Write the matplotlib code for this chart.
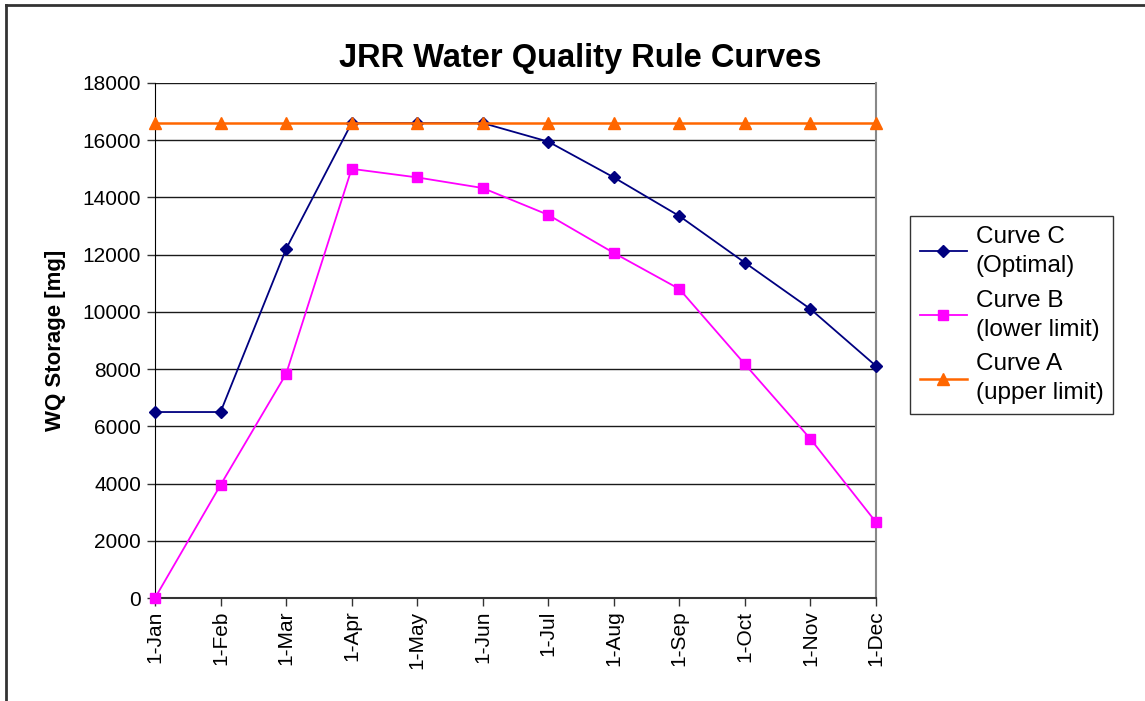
import matplotlib
matplotlib.use("Agg")
import matplotlib.pyplot as plt
from matplotlib.lines import Line2D

plt.rcParams['font.family'] = ['Liberation Sans', 'DejaVu Sans']

months = ["1-Jan", "1-Feb", "1-Mar", "1-Apr", "1-May", "1-Jun",
          "1-Jul", "1-Aug", "1-Sep", "1-Oct", "1-Nov", "1-Dec"]
curve_c = [6500, 6500, 12200, 16600, 16600, 16600, 15950, 14700, 13350, 11720, 10100, 8110]
curve_b = [0, 3950, 7830, 15000, 14700, 14330, 13390, 12060, 10800, 8170, 5560, 2650]
curve_a = [16600] * 12
y_ticks = [0, 2000, 4000, 6000, 8000, 10000, 12000, 14000, 16000, 18000]

W, H = 1145, 701
fig = plt.figure(figsize=(W / 100, H / 100), dpi=100)
ax = fig.add_axes([155 / W, 1 - 598 / H, (876 - 155) / W, (598 - 83) / H])

x = list(range(len(months)))
ax.plot(x, curve_c, color="#000080", lw=1.3, marker="D", markersize=6.5,
        label="Curve C\n(Optimal)", zorder=3, clip_on=False)
ax.plot(x, curve_b, color="#FF00FF", lw=1.3, marker="s", markersize=7,
        label="Curve B\n(lower limit)", zorder=3, clip_on=False)
ax.plot(x, curve_a, color="#FF6600", lw=1.8, marker="^", markersize=8.5,
        label="Curve A\n(upper limit)", zorder=4, clip_on=False)

ax.set_xlim(0, len(months) - 1)
ax.set_ylim(0, 18000)
ax.set_xticks(x)
ax.set_xticklabels(months, rotation=90, fontsize=15)
ax.set_yticks(y_ticks)
ax.set_yticklabels([str(v) for v in y_ticks], fontsize=15)
ax.tick_params(axis="both", direction="out", length=6, width=1, color="#333333", pad=4)
ax.tick_params(axis="x", pad=3)

ax.yaxis.grid(True, color="#1a1a1a", lw=1.0)
ax.set_axisbelow(True)
ax.spines["top"].set_visible(False)
ax.spines["left"].set_color("#000000")
ax.spines["bottom"].set_color("#333333")
ax.spines["bottom"].set_linewidth(1.5)
ax.spines["right"].set_color("#888888")
ax.spines["right"].set_linewidth(1.5)

ax.set_ylabel("WQ Storage [mg]", fontsize=16, fontweight="bold", labelpad=12)
fig.text(580 / W, 1 - 58 / H, "JRR Water Quality Rule Curves", fontsize=23.5,
         fontweight="bold", ha="center", va="center")

leg = fig.legend(loc="upper left", bbox_to_anchor=(910 / W, 1 - 216 / H),
                 fontsize=17.5, frameon=True, fancybox=False, handlelength=1.95,
                 handletextpad=0.35, borderpad=0.4, labelspacing=0.52,
                 borderaxespad=0)
for t in leg.get_texts():
    t.set_linespacing(1.42)
leg.get_frame().set_edgecolor("#000000")
leg.get_frame().set_linewidth(1.0)

# outer chart border (top and left edges)
fig.add_artist(Line2D([6 / W, 6 / W], [0, 1 - 5 / H], transform=fig.transFigure,
                      color="#333333", lw=2))
fig.add_artist(Line2D([6 / W, 1], [1 - 5 / H, 1 - 5 / H], transform=fig.transFigure,
                      color="#333333", lw=2))

fig.savefig("out.png", dpi=100)
